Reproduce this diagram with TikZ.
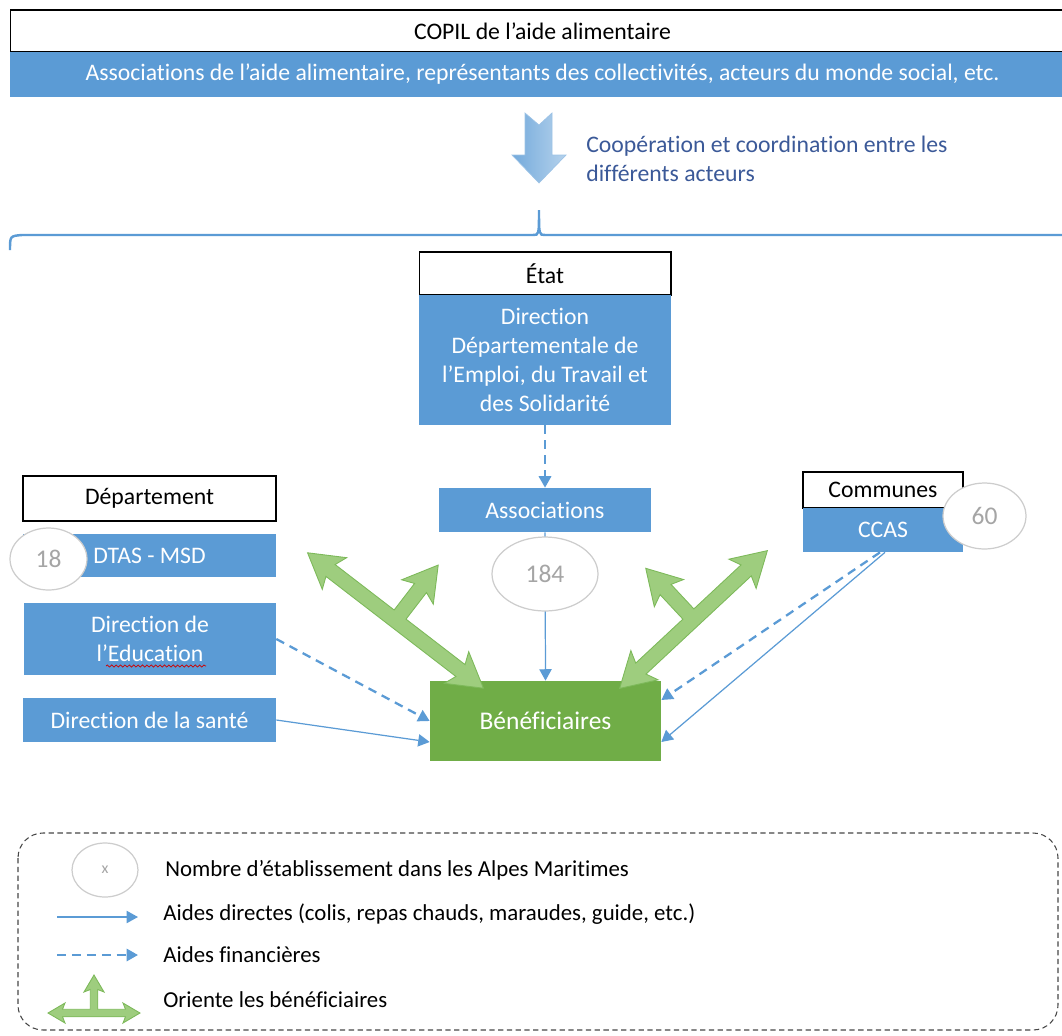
\documentclass[tikz,border=0pt]{standalone}
\usepackage{fontspec}
\setmainfont{Carlito}[Ligatures=NoCommon]
\usetikzlibrary{arrows.meta,shapes.geometric,decorations.pathmorphing}

\definecolor{boxblue}{RGB}{91,155,213}
\definecolor{boxgreen}{RGB}{112,173,71}
\definecolor{orientfill}{RGB}{158,205,126}
\definecolor{orientline}{RGB}{125,185,90}
\definecolor{coopblue}{RGB}{59,89,152}
\definecolor{circlegray}{RGB}{205,205,205}
\definecolor{numgray}{RGB}{165,165,165}
\definecolor{legendgray}{RGB}{70,70,70}

% double arrow with a side branch: centre, angle, half length, branch length, scale of the heads
\newcommand{\orientarrow}[5]{%
  \begin{scope}[shift={#1}, rotate=#2, x=0.02cm, y=0.02cm]
    \filldraw[orient] ({#3},0) -- ({#3-34*#5},{20*#5}) -- ({#3-29*#5},{7.5*#5})
      -- ({7.5*#5},{7.5*#5}) -- ({7.5*#5},{#4-29*#5}) -- ({20*#5},{#4-34*#5}) -- (0,{#4})
      -- ({-20*#5},{#4-34*#5}) -- ({-7.5*#5},{#4-29*#5}) -- ({-7.5*#5},{7.5*#5})
      -- ({-#3+29*#5},{7.5*#5}) -- ({-#3+34*#5},{20*#5}) -- ({-#3},0)
      -- ({-#3+34*#5},{-20*#5}) -- ({-#3+29*#5},{-7.5*#5})
      -- ({#3-29*#5},{-7.5*#5}) -- ({#3-34*#5},{-20*#5}) -- cycle;
  \end{scope}}

\begin{document}
\begin{tikzpicture}[x=0.02cm, y=-0.02cm,
  font=\fontsize{13.5}{16.4}\selectfont,
  whitebox/.style={draw=black, line width=0.6pt, fill=white, inner sep=0pt},
  bluebox/.style={fill=boxblue, text=white, inner sep=0pt, align=center},
  greenbox/.style={fill=boxgreen, text=white, inner sep=0pt,
    font=\fontsize{14.5}{17}\selectfont},
  nbcircle/.style={ellipse, draw=circlegray, fill=white, text=numgray,
    inner sep=0pt, line width=0.7pt, font=\fontsize{14.5}{17}\selectfont},
  direct/.style={draw=boxblue, line width=0.7pt, -{Triangle[width=7pt,length=6.5pt]}},
  financ/.style={draw=boxblue, line width=1.3pt, dash pattern=on 5pt off 3.5pt,
    -{Triangle[width=7pt,length=6.5pt]}},
  orient/.style={fill=orientfill, draw=orientline, line width=0.5pt, line join=miter},
  coop/.style={text=coopblue, align=left, inner sep=0pt},
  brace/.style={draw=boxblue, line width=1.4pt},
  legendtext/.style={anchor=west, inner sep=0pt, font=\fontsize{13}{15}\selectfont}]

\useasboundingbox (0,0) rectangle (1062,1035);

% comité de pilotage
\node[whitebox, minimum width=21.3cm, minimum height=0.84cm] (copil) at (542.5,31)
  {COPIL de l’aide alimentaire};
\node[bluebox, minimum width=21.3cm, minimum height=0.9cm] (acteurs) at (542.5,74.5)
  {Associations de l’aide alimentaire, représentants des collectivités, acteurs du monde social, etc.};

\shade[left color=boxblue!85, right color=boxblue!45, draw=boxblue!60, line width=0.4pt]
  (525,113) -- (539,125) -- (552,113) -- (552,155) -- (566,155) -- (539,183)
  -- (512,155) -- (525,155) -- cycle;
\node[coop, anchor=west] (coop) at (586,159)
  {Coopération et coordination entre les\\différents acteurs};

\draw[brace] (10,250) .. controls (10,236) .. (22,235) -- (533,235)
  .. controls (539,235) .. (539,210) .. controls (539,235) .. (545,235) -- (1070,235);

% Etat
\node[whitebox, minimum width=5.04cm, minimum height=0.86cm] (etat) at (545,273.5) {État};
\node[bluebox, minimum width=5.04cm, minimum height=2.6cm] (ddets) at (545,360)
  {Direction\\Départementale de\\l’Emploi, du Travail et\\des Solidarité};
\node[bluebox, minimum width=4.24cm, minimum height=0.88cm] (assoc) at (545,510) {Associations};

\node[greenbox, minimum width=4.62cm, minimum height=1.6cm] (benef) at (545.5,721) {Bénéficiaires};

% Departement
\node[whitebox, minimum width=5.06cm, minimum height=0.9cm] (dept) at (149.5,498.5) {Département};
\node[bluebox, minimum width=5.06cm, minimum height=0.86cm] (dtas) at (149.5,555.5) {DTAS - MSD};
\node[bluebox, minimum width=5.04cm, minimum height=1.44cm] (educ) at (150,639)
  {Direction de\\l’Education};
\node[bluebox, minimum width=5.06cm, minimum height=0.88cm] (sante) at (149.5,720)
  {Direction de la santé};
\draw[red!80!black, line width=0.4pt, decorate,
  decoration={snake, amplitude=0.6pt, segment length=2.5pt}] (106,666) -- (206,666);

% Communes
\node[whitebox, minimum width=3.2cm, minimum height=0.72cm] (communes) at (883,490) {Communes};
\node[bluebox, minimum width=3.2cm, minimum height=0.88cm] (ccas) at (883,530) {CCAS};

% liens vers les beneficiaires
\draw[financ] (ddets.south) -- (assoc.north);
\draw[direct] (assoc.south) -- (benef.north);
\draw[financ] (educ.east) -- (benef.west);
\draw[direct] (sante.east) -- ([yshift=-0.42cm]benef.west);
\draw[financ] ([xshift=-0.06cm]ccas.south) -- ([yshift=0.42cm]benef.east);
\draw[direct] ([xshift=0.04cm]ccas.south) -- ([yshift=-0.42cm]benef.east);

\node[nbcircle, minimum width=2.12cm, minimum height=1.48cm] (n184) at (545,574) {184};
\node[nbcircle, minimum width=1.54cm, minimum height=1.24cm] (n18) at (48.5,559) {18};
\node[nbcircle, minimum width=1.66cm, minimum height=1.32cm] (n60) at (984.5,516) {60};

\orientarrow{(395.5,620.5)}{-37.6}{111}{70}{1}
\orientarrow{(693.5,619.5)}{43}{101}{70}{1}

% legende
\draw[legendgray, line width=0.6pt, dash pattern=on 3pt off 2pt, rounded corners=0.5cm]
  (18,833) rectangle (1058,1030);
\node[nbcircle, minimum width=1.32cm, minimum height=1.08cm,
  font=\fontsize{9}{10}\selectfont] (nx) at (105,870) {x};
\node[legendtext] (lgcount) at (165,870) {Nombre d’établissement dans les Alpes Maritimes};
\coordinate (d1) at (57,917);
\coordinate (d2) at (138,917);
\draw[direct] (d1) -- (d2);
\node[legendtext] (lgdirect) at (163,914) {Aides directes (colis, repas chauds, maraudes, guide, etc.)};
\coordinate (f1) at (57,955);
\coordinate (f2) at (138,955);
\draw[financ] (f1) -- (f2);
\node[legendtext] (lgfinanc) at (163,955) {Aides financières};
\orientarrow{(94,1013)}{0}{46}{38}{0.5}
\node[legendtext] (lgorient) at (163,1000) {Oriente les bénéficiaires};
\end{tikzpicture}
\end{document}
